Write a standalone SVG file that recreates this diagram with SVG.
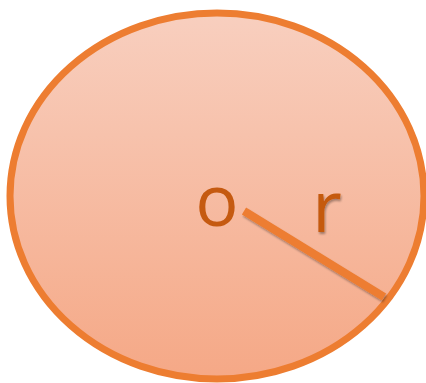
<svg xmlns="http://www.w3.org/2000/svg" width="426" height="383" viewBox="0 0 426 383">
  <defs>
    <linearGradient id="fillGrad" x1="0" y1="0" x2="0" y2="1">
      <stop offset="0" stop-color="#F8CFBF"/>
      <stop offset="1" stop-color="#F5A886"/>
    </linearGradient>
    <filter id="shadow" x="-10%" y="-20%" width="120%" height="140%">
      <feGaussianBlur in="SourceAlpha" stdDeviation="1"/>
      <feOffset dx="1" dy="1.5" result="b"/>
      <feComponentTransfer><feFuncA type="linear" slope="0.35"/></feComponentTransfer>
      <feMerge><feMergeNode/><feMergeNode in="SourceGraphic"/></feMerge>
    </filter>
    <style>
      .lbl { font-family: "Open Sans", "Liberation Sans", sans-serif; font-size: 72px; fill: #C55A11; text-anchor: middle; }
    </style>
  </defs>
  <g id="circle">
    <ellipse cx="217" cy="196" rx="207" ry="183" fill="url(#fillGrad)" stroke="#ED7D31" stroke-width="7"/>
  </g>
  <g id="connectors">
    <line x1="244" y1="211" x2="384" y2="297" stroke="#ED7D31" stroke-width="8" filter="url(#shadow)"/>
  </g>
  <g id="label-o">
    <text class="lbl" x="217" y="226">o</text>
  </g>
  <g id="label-r">
    <text class="lbl" x="327" y="232" filter="url(#shadow)">r</text>
  </g>
</svg>
